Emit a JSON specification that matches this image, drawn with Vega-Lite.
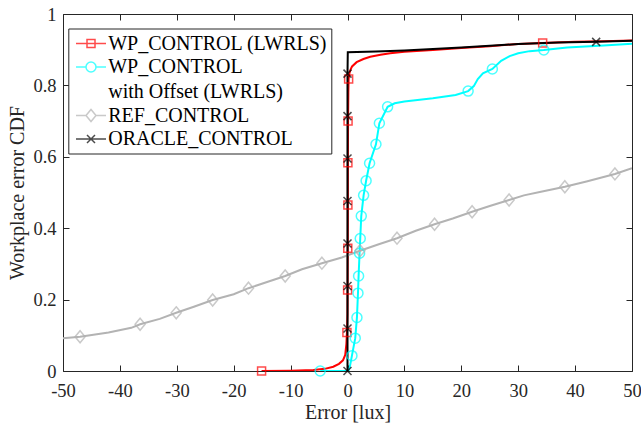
{
  "$schema": "https://vega.github.io/schema/vega-lite/v6.json",
  "autosize": {"type": "none"},
  "padding": {"left": 63, "top": 14, "right": 9, "bottom": 52},
  "width": 569,
  "height": 357,
  "background": "white",
  "config": {
    "view": {"stroke": null},
    "font": "Liberation Serif",
    "style": {"guide-label": {"lineHeight": 24.5}},
    "axis": {
      "grid": false,
      "domainColor": "#262626",
      "tickColor": "#262626",
      "labelColor": "#262626",
      "titleColor": "#262626",
      "labelFont": "Liberation Serif",
      "titleFont": "Liberation Serif",
      "labelFontSize": 18.5,
      "titleFontSize": 20,
      "titleFontWeight": "normal",
      "tickSize": -6,
      "labelFlush": false,
      "labelOverlap": false
    }
  },
  "data": {
    "values": [
      {"s": "WP_CONTROL (LWRLS)", "x": -15.1, "y": 0, "m": 1},
      {"s": "WP_CONTROL (LWRLS)", "x": -10, "y": 0.001, "m": 0},
      {"s": "WP_CONTROL (LWRLS)", "x": -6, "y": 0.003, "m": 0},
      {"s": "WP_CONTROL (LWRLS)", "x": -4, "y": 0.006, "m": 0},
      {"s": "WP_CONTROL (LWRLS)", "x": -2.5, "y": 0.012, "m": 0},
      {"s": "WP_CONTROL (LWRLS)", "x": -1.5, "y": 0.02, "m": 0},
      {"s": "WP_CONTROL (LWRLS)", "x": -0.8, "y": 0.03, "m": 0},
      {"s": "WP_CONTROL (LWRLS)", "x": -0.4, "y": 0.045, "m": 0},
      {"s": "WP_CONTROL (LWRLS)", "x": -0.2, "y": 0.075, "m": 0},
      {"s": "WP_CONTROL (LWRLS)", "x": -0.1, "y": 0.108, "m": 1},
      {"s": "WP_CONTROL (LWRLS)", "x": 0, "y": 0.16, "m": 0},
      {"s": "WP_CONTROL (LWRLS)", "x": 0.02, "y": 0.227, "m": 1},
      {"s": "WP_CONTROL (LWRLS)", "x": 0.05, "y": 0.344, "m": 1},
      {"s": "WP_CONTROL (LWRLS)", "x": 0.07, "y": 0.465, "m": 1},
      {"s": "WP_CONTROL (LWRLS)", "x": 0.07, "y": 0.583, "m": 1},
      {"s": "WP_CONTROL (LWRLS)", "x": 0.1, "y": 0.7, "m": 1},
      {"s": "WP_CONTROL (LWRLS)", "x": 0.15, "y": 0.78, "m": 0},
      {"s": "WP_CONTROL (LWRLS)", "x": 0.2, "y": 0.818, "m": 1},
      {"s": "WP_CONTROL (LWRLS)", "x": 0.35, "y": 0.835, "m": 0},
      {"s": "WP_CONTROL (LWRLS)", "x": 0.55, "y": 0.845, "m": 0},
      {"s": "WP_CONTROL (LWRLS)", "x": 0.8, "y": 0.853, "m": 0},
      {"s": "WP_CONTROL (LWRLS)", "x": 1.6, "y": 0.865, "m": 0},
      {"s": "WP_CONTROL (LWRLS)", "x": 2.8, "y": 0.874, "m": 0},
      {"s": "WP_CONTROL (LWRLS)", "x": 4, "y": 0.88, "m": 0},
      {"s": "WP_CONTROL (LWRLS)", "x": 5.8, "y": 0.886, "m": 0},
      {"s": "WP_CONTROL (LWRLS)", "x": 7.5, "y": 0.89, "m": 0},
      {"s": "WP_CONTROL (LWRLS)", "x": 10, "y": 0.894, "m": 0},
      {"s": "WP_CONTROL (LWRLS)", "x": 15, "y": 0.899, "m": 0},
      {"s": "WP_CONTROL (LWRLS)", "x": 20, "y": 0.905, "m": 0},
      {"s": "WP_CONTROL (LWRLS)", "x": 25, "y": 0.91, "m": 0},
      {"s": "WP_CONTROL (LWRLS)", "x": 30, "y": 0.916, "m": 0},
      {"s": "WP_CONTROL (LWRLS)", "x": 34.3, "y": 0.919, "m": 1},
      {"s": "WP_CONTROL (LWRLS)", "x": 40, "y": 0.922, "m": 0},
      {"s": "WP_CONTROL (LWRLS)", "x": 45, "y": 0.924, "m": 0},
      {"s": "WP_CONTROL (LWRLS)", "x": 50, "y": 0.926, "m": 0},

      {"s": "WP_CONTROL with Offset (LWRLS)", "x": -4.8, "y": 0, "m": 1},
      {"s": "WP_CONTROL with Offset (LWRLS)", "x": 0.2, "y": 0.001, "m": 0},
      {"s": "WP_CONTROL with Offset (LWRLS)", "x": 0.45, "y": 0.015, "m": 0},
      {"s": "WP_CONTROL with Offset (LWRLS)", "x": 0.78, "y": 0.043, "m": 1},
      {"s": "WP_CONTROL with Offset (LWRLS)", "x": 1.36, "y": 0.092, "m": 1},
      {"s": "WP_CONTROL with Offset (LWRLS)", "x": 1.66, "y": 0.15, "m": 1},
      {"s": "WP_CONTROL with Offset (LWRLS)", "x": 1.84, "y": 0.218, "m": 1},
      {"s": "WP_CONTROL with Offset (LWRLS)", "x": 1.95, "y": 0.266, "m": 1},
      {"s": "WP_CONTROL with Offset (LWRLS)", "x": 2.12, "y": 0.33, "m": 1},
      {"s": "WP_CONTROL with Offset (LWRLS)", "x": 2.24, "y": 0.371, "m": 1},
      {"s": "WP_CONTROL with Offset (LWRLS)", "x": 2.42, "y": 0.434, "m": 1},
      {"s": "WP_CONTROL with Offset (LWRLS)", "x": 2.83, "y": 0.492, "m": 1},
      {"s": "WP_CONTROL with Offset (LWRLS)", "x": 3.27, "y": 0.533, "m": 1},
      {"s": "WP_CONTROL with Offset (LWRLS)", "x": 3.88, "y": 0.582, "m": 1},
      {"s": "WP_CONTROL with Offset (LWRLS)", "x": 5.0, "y": 0.635, "m": 1},
      {"s": "WP_CONTROL with Offset (LWRLS)", "x": 5.6, "y": 0.694, "m": 1},
      {"s": "WP_CONTROL with Offset (LWRLS)", "x": 7.05, "y": 0.74, "m": 1},
      {"s": "WP_CONTROL with Offset (LWRLS)", "x": 8.3, "y": 0.75, "m": 0},
      {"s": "WP_CONTROL with Offset (LWRLS)", "x": 10, "y": 0.755, "m": 0},
      {"s": "WP_CONTROL with Offset (LWRLS)", "x": 15, "y": 0.764, "m": 0},
      {"s": "WP_CONTROL with Offset (LWRLS)", "x": 19, "y": 0.773, "m": 0},
      {"s": "WP_CONTROL with Offset (LWRLS)", "x": 21.2, "y": 0.784, "m": 1},
      {"s": "WP_CONTROL with Offset (LWRLS)", "x": 22.2, "y": 0.798, "m": 0},
      {"s": "WP_CONTROL with Offset (LWRLS)", "x": 22.9, "y": 0.818, "m": 0},
      {"s": "WP_CONTROL with Offset (LWRLS)", "x": 23.8, "y": 0.834, "m": 0},
      {"s": "WP_CONTROL with Offset (LWRLS)", "x": 25.46, "y": 0.846, "m": 1},
      {"s": "WP_CONTROL with Offset (LWRLS)", "x": 27, "y": 0.869, "m": 0},
      {"s": "WP_CONTROL with Offset (LWRLS)", "x": 28.5, "y": 0.882, "m": 0},
      {"s": "WP_CONTROL with Offset (LWRLS)", "x": 30, "y": 0.89, "m": 0},
      {"s": "WP_CONTROL with Offset (LWRLS)", "x": 32, "y": 0.896, "m": 0},
      {"s": "WP_CONTROL with Offset (LWRLS)", "x": 34.5, "y": 0.899, "m": 1},
      {"s": "WP_CONTROL with Offset (LWRLS)", "x": 38.6, "y": 0.906, "m": 0},
      {"s": "WP_CONTROL with Offset (LWRLS)", "x": 45, "y": 0.912, "m": 0},
      {"s": "WP_CONTROL with Offset (LWRLS)", "x": 50, "y": 0.917, "m": 0},

      {"s": "REF_CONTROL", "x": -50, "y": 0.092, "m": 0},
      {"s": "REF_CONTROL", "x": -47, "y": 0.096, "m": 1},
      {"s": "REF_CONTROL", "x": -42, "y": 0.108, "m": 0},
      {"s": "REF_CONTROL", "x": -38, "y": 0.121, "m": 0},
      {"s": "REF_CONTROL", "x": -36.45, "y": 0.131, "m": 1},
      {"s": "REF_CONTROL", "x": -33, "y": 0.146, "m": 0},
      {"s": "REF_CONTROL", "x": -30.1, "y": 0.163, "m": 1},
      {"s": "REF_CONTROL", "x": -27, "y": 0.18, "m": 0},
      {"s": "REF_CONTROL", "x": -23.7, "y": 0.199, "m": 1},
      {"s": "REF_CONTROL", "x": -20, "y": 0.215, "m": 0},
      {"s": "REF_CONTROL", "x": -17.4, "y": 0.232, "m": 1},
      {"s": "REF_CONTROL", "x": -14, "y": 0.25, "m": 0},
      {"s": "REF_CONTROL", "x": -10.95, "y": 0.266, "m": 1},
      {"s": "REF_CONTROL", "x": -8, "y": 0.285, "m": 0},
      {"s": "REF_CONTROL", "x": -4.5, "y": 0.302, "m": 1},
      {"s": "REF_CONTROL", "x": -1, "y": 0.318, "m": 0},
      {"s": "REF_CONTROL", "x": 2.2, "y": 0.337, "m": 1},
      {"s": "REF_CONTROL", "x": 5.5, "y": 0.355, "m": 0},
      {"s": "REF_CONTROL", "x": 8.7, "y": 0.372, "m": 1},
      {"s": "REF_CONTROL", "x": 12, "y": 0.393, "m": 0},
      {"s": "REF_CONTROL", "x": 15.3, "y": 0.411, "m": 1},
      {"s": "REF_CONTROL", "x": 18.5, "y": 0.427, "m": 0},
      {"s": "REF_CONTROL", "x": 21.9, "y": 0.446, "m": 1},
      {"s": "REF_CONTROL", "x": 25, "y": 0.462, "m": 0},
      {"s": "REF_CONTROL", "x": 28.4, "y": 0.479, "m": 1},
      {"s": "REF_CONTROL", "x": 31, "y": 0.492, "m": 0},
      {"s": "REF_CONTROL", "x": 34, "y": 0.502, "m": 0},
      {"s": "REF_CONTROL", "x": 38.2, "y": 0.516, "m": 1},
      {"s": "REF_CONTROL", "x": 42, "y": 0.531, "m": 0},
      {"s": "REF_CONTROL", "x": 47, "y": 0.552, "m": 1},
      {"s": "REF_CONTROL", "x": 50, "y": 0.568, "m": 0},

      {"s": "ORACLE_CONTROL", "x": 0, "y": 0, "m": 1},
      {"s": "ORACLE_CONTROL", "x": 0, "y": 0.119, "m": 1},
      {"s": "ORACLE_CONTROL", "x": 0, "y": 0.238, "m": 1},
      {"s": "ORACLE_CONTROL", "x": 0, "y": 0.357, "m": 1},
      {"s": "ORACLE_CONTROL", "x": 0, "y": 0.476, "m": 1},
      {"s": "ORACLE_CONTROL", "x": 0, "y": 0.595, "m": 1},
      {"s": "ORACLE_CONTROL", "x": 0, "y": 0.714, "m": 1},
      {"s": "ORACLE_CONTROL", "x": 0, "y": 0.833, "m": 1},
      {"s": "ORACLE_CONTROL", "x": 0.05, "y": 0.893, "m": 0},
      {"s": "ORACLE_CONTROL", "x": 5, "y": 0.895, "m": 0},
      {"s": "ORACLE_CONTROL", "x": 10, "y": 0.898, "m": 0},
      {"s": "ORACLE_CONTROL", "x": 20, "y": 0.906, "m": 0},
      {"s": "ORACLE_CONTROL", "x": 30, "y": 0.916, "m": 0},
      {"s": "ORACLE_CONTROL", "x": 37, "y": 0.92, "m": 0},
      {"s": "ORACLE_CONTROL", "x": 43.7, "y": 0.922, "m": 1},
      {"s": "ORACLE_CONTROL", "x": 50, "y": 0.925, "m": 0}
    ]
  },
  "resolve": {
    "axis": {"x": "independent", "y": "independent"},
    "legend": {"color": "independent", "shape": "independent"}
  },
  "layer": [
    {
      "mark": {"type": "line", "strokeWidth": 2, "clip": true},
      "encoding": {
        "x": {
          "field": "x", "type": "quantitative",
          "scale": {"domain": [-50, 50], "nice": false, "zero": false},
          "axis": {
            "orient": "bottom",
            "values": [-50, -40, -30, -20, -10, 0, 10, 20, 30, 40, 50],
            "labelExpr": "datum.value < 0 ? '-' + abs(datum.value) : '' + datum.value",
            "labelPadding": 16.5,
            "title": "Error [lux]",
            "titleBaseline": "alphabetic",
            "titleY": 47
          }
        },
        "y": {
          "field": "y", "type": "quantitative",
          "scale": {"domain": [0, 1], "nice": false},
          "axis": {
            "orient": "left",
            "values": [0, 0.2, 0.4, 0.6, 0.8, 1],
            "labelExpr": "'' + datum.value",
            "labelPadding": 13,
            "title": "Workplace error CDF",
            "titlePadding": 5
          }
        },
        "color": {
          "field": "s", "type": "nominal",
          "scale": {
            "domain": ["WP_CONTROL (LWRLS)", "WP_CONTROL with Offset (LWRLS)", "REF_CONTROL", "ORACLE_CONTROL"],
            "range": ["#ff0000", "#00ffff", "#b3b3b3", "#000000"]
          },
          "legend": null
        },
        "order": {"field": "y", "type": "quantitative"}
      }
    },
    {
      "transform": [{"filter": "datum.m == 1 && datum.s == 'WP_CONTROL (LWRLS)'"}],
      "mark": {"type": "point", "filled": false, "strokeWidth": 1.5, "size": 100, "shape": "M-0.8,-0.8H0.8V0.8H-0.8Z"},
      "encoding": {
        "x": {
          "field": "x", "type": "quantitative",
          "axis": {
            "orient": "top",
            "values": [-50, -40, -30, -20, -10, 0, 10, 20, 30, 40, 50],
            "labels": false,
            "title": null
          }
        },
        "y": {
          "field": "y", "type": "quantitative",
          "axis": {
            "orient": "right",
            "values": [0, 0.2, 0.4, 0.6, 0.8, 1],
            "labels": false,
            "title": null
          }
        },
        "color": {"field": "s", "type": "nominal", "legend": null}
      }
    },
    {
      "transform": [{"filter": "datum.m == 1 && datum.s == 'WP_CONTROL with Offset (LWRLS)'"}],
      "mark": {"type": "point", "filled": false, "strokeWidth": 1.5, "size": 100, "shape": "circle"},
      "encoding": {
        "x": {"field": "x", "type": "quantitative", "axis": null},
        "y": {"field": "y", "type": "quantitative", "axis": null},
        "color": {"field": "s", "type": "nominal", "legend": null}
      }
    },
    {
      "transform": [{"filter": "datum.m == 1 && datum.s == 'REF_CONTROL'"}],
      "mark": {"type": "point", "filled": false, "strokeWidth": 1.5, "size": 100, "shape": "M0,-1.2L1,0L0,1.2L-1,0Z"},
      "encoding": {
        "x": {"field": "x", "type": "quantitative", "axis": null},
        "y": {"field": "y", "type": "quantitative", "axis": null},
        "color": {"field": "s", "type": "nominal", "legend": null}
      }
    },
    {
      "transform": [{"filter": "datum.m == 1 && datum.s == 'ORACLE_CONTROL'"}],
      "mark": {"type": "point", "filled": false, "strokeWidth": 1.5, "size": 64, "shape": "M-1,-1L1,1M-1,1L1,-1"},
      "encoding": {
        "x": {"field": "x", "type": "quantitative", "axis": null},
        "y": {"field": "y", "type": "quantitative", "axis": null},
        "color": {"field": "s", "type": "nominal", "legend": null}
      }
    },
    {
      "transform": [{"filter": "datum.m == 2"}],
      "mark": {"type": "point", "filled": false, "strokeWidth": 1.5},
      "encoding": {
        "x": {"field": "x", "type": "quantitative", "axis": null},
        "y": {"field": "y", "type": "quantitative", "axis": null},
        "color": {
          "field": "s", "type": "nominal",
          "legend": {
            "orient": "none",
            "legendX": 5.3,
            "legendY": 14.5,
            "title": null,
            "labelFont": "Liberation Serif",
            "labelFontSize": 20,
            "labelColor": "#000000",
            "labelLimit": 0,
            "labelExpr": "datum.value === 'WP_CONTROL with Offset (LWRLS)' ? ['WP_CONTROL', 'with Offset (LWRLS)'] : datum.value === 'WP_CONTROL (LWRLS)' ? 'WP_CONTROL (LWRLS)\u00a0\u00a0' : datum.label",
            "symbolSize": 400,
            "symbolStrokeWidth": 1.5,
            "symbolOffset": 7.7,
            "labelOffset": 6.2,
            "padding": 4,
            "rowPadding": 2.5,
            "strokeColor": "#262626",
            "fillColor": "white",
            "encode": {
              "labels": {"update": {"lineHeight": {"value": 24.5}}}
            }
          }
        },
        "shape": {
          "field": "s", "type": "nominal",
          "scale": {
            "domain": ["WP_CONTROL (LWRLS)", "WP_CONTROL with Offset (LWRLS)", "REF_CONTROL", "ORACLE_CONTROL"],
            "range": [
              "M-1.5,0H1.5M-0.4,-0.4H0.4V0.4H-0.4Z",
              "M-1.5,0H-0.5A0.5,0.5,0,1,1,0.5,0A0.5,0.5,0,1,1,-0.5,0M0.5,0H1.5",
              "M-1.5,0H-0.5L0,-0.6L0.5,0L0,0.6L-0.5,0M0.5,0H1.5",
              "M-1.5,0H1.5M-0.4,-0.4L0.4,0.4M-0.4,0.4L0.4,-0.4"
            ]
          },
          "legend": {
            "orient": "none",
            "legendX": 5.3,
            "legendY": 14.5,
            "title": null,
            "labelFont": "Liberation Serif",
            "labelFontSize": 20,
            "labelColor": "#000000",
            "labelLimit": 0,
            "labelExpr": "datum.value === 'WP_CONTROL with Offset (LWRLS)' ? ['WP_CONTROL', 'with Offset (LWRLS)'] : datum.value === 'WP_CONTROL (LWRLS)' ? 'WP_CONTROL (LWRLS)\u00a0\u00a0' : datum.label",
            "symbolSize": 400,
            "symbolStrokeWidth": 1.5,
            "symbolOffset": 7.7,
            "labelOffset": 6.2,
            "padding": 4,
            "rowPadding": 2.5,
            "strokeColor": "#262626",
            "fillColor": "white",
            "encode": {
              "labels": {"update": {"lineHeight": {"value": 24.5}}}
            }
          }
        }
      }
    }
  ]
}
